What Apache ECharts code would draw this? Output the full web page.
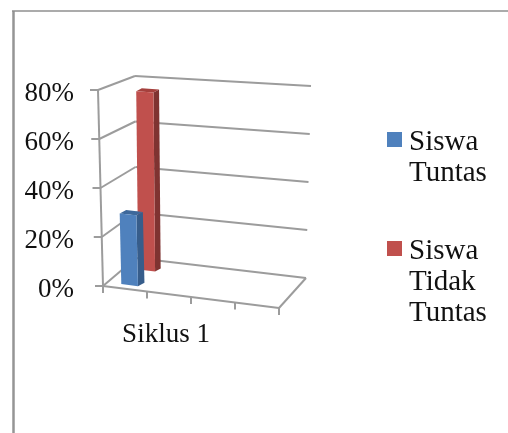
<!DOCTYPE html>
<html>
<head>
<meta charset="utf-8">
<style>
  html, body { margin: 0; background: #fff; }
  #chart { width: 508px; height: 433px; }
</style>
<script src="https://cdn.jsdelivr.net/npm/echarts@6/dist/echarts.min.js"></script>
</head>
<body>
<div id="chart"></div>
<script>
// data
const categories = ['Siklus 1']
const seriesNames = ['Siswa Tuntas', 'Siswa Tidak Tuntas']
const tuntasValues = [29]
const tidakTuntasValues = [76]
const yTicks = [0, 20, 40, 60, 80]

const fontName = '"Liberation Serif", serif'
const lineColor = '#9c9c9c'

// corners of the 3D box on screen: [bottom, top] for each of FL, FR, BL, BR
const box = {
  FL: [[103, 286], [98, 90]],
  FR: [[279, 308], [274, 105]],
  BL: [[136, 258], [135, 76]],
  BR: [[306, 278], [311, 86]],
}
const floorSlots = 4

const mix = (a, b, k) => [a[0] + (b[0] - a[0]) * k, a[1] + (b[1] - a[1]) * k]

// u = along category axis, d = depth, t = height share of the value axis
const project = (u, d, t) => {
  const bottom = mix(mix(box.FL[0], box.FR[0], u), mix(box.BL[0], box.BR[0], u), d)
  const top = mix(mix(box.FL[1], box.FR[1], u), mix(box.BL[1], box.BR[1], u), d)
  return mix(bottom, top, t)
}

const heightShare = (api, value) => {
  const y0 = api.coord([0, yTicks[0]])[1]
  const y1 = api.coord([0, yTicks[yTicks.length - 1]])[1]
  return (y0 - api.coord([0, value])[1]) / (y0 - y1)
}

const line = (a, b) => ({
  type: 'line',
  shape: { x1: a[0], y1: a[1], x2: b[0], y2: b[1] },
  style: { stroke: lineColor, lineWidth: 2, fill: null },
})

const poly = (points, fill) => ({
  type: 'polygon',
  shape: { points },
  style: { fill },
})

const renderFrame = (params, api) => {
  const children = []
  yTicks.forEach((tick) => {
    const t = heightShare(api, tick)
    const front = project(0, 0, t)
    const back = project(0, 1, t)
    children.push(line([front[0] - 8, front[1]], front))
    children.push(line(front, back))
    children.push(line(back, project(1, 1, t)))
  })
  children.push(line(project(0, 0, 0), project(0, 0, 1)))
  children.push(line(project(0, 0, 0), project(1, 0, 0)))
  children.push(line(project(1, 0, 0), project(1, 1, 0)))
  for (let i = 0; i <= floorSlots; i++) {
    const p = project(i / floorSlots, 0, 0)
    children.push(line(p, [p[0], p[1] + 7]))
  }
  return { type: 'group', children }
}

const makeBar = (u0, u1, d, off, colors) => (params, api) => {
  const t = heightShare(api, api.value(1))
  const lb = project(u0, d, 0)
  const rb = project(u1, d, 0)
  const lt = project(u0, d, t)
  const rt = project(u1, d, t)
  const shift = (p) => [p[0] + off[0], p[1] + off[1]]
  return {
    type: 'group',
    children: [
      poly([rt, shift(rt), shift(rb), rb], colors.side),
      poly([lt, rt, shift(rt), shift(lt)], colors.top),
      poly([lb, lt, rt, rb], colors.front),
    ],
  }
}

const chart = echarts.init(document.getElementById('chart'), null, { renderer: 'canvas' })

const toRows = (values) => values.map((v, i) => [i, v])

chart.setOption({
  animation: false,
  backgroundColor: '#fff',
  // the grid only carries the scales and labels, the box is placed by project()
  grid: { left: 98, top: 94, width: 136, height: 196 },
  xAxis: {
    type: 'category',
    data: categories,
    axisLine: { show: false },
    axisTick: { show: false },
    axisLabel: { margin: 31, fontFamily: fontName, fontSize: 27, color: '#111' },
  },
  yAxis: {
    type: 'value',
    min: yTicks[0],
    max: yTicks[yTicks.length - 1],
    interval: 20,
    axisLine: { show: false },
    axisTick: { show: false },
    splitLine: { show: false },
    axisLabel: { margin: 24, formatter: '{value}%', fontFamily: fontName, fontSize: 27, color: '#111' },
  },
  legend: {
    orient: 'vertical',
    left: 387,
    top: 96,
    padding: 0,
    itemWidth: 15,
    itemHeight: 21,
    itemGap: -15,
    // square sits at the top of a taller icon box, so the text hangs a little lower
    icon: 'path://M0 0H15V15H0ZM0 21H0.01V21Z',
    // blank lines in front keep the square level with the first line of text
    formatter: (name) => {
      const words = name.split(' ')
      return '\n'.repeat(words.length - 1) + words.join('\n')
    },
    textStyle: { fontFamily: fontName, fontSize: 29, lineHeight: 31, color: '#111', padding: [0, 0, 0, 2] },
    data: seriesNames,
  },
  graphic: [
    { type: 'line', silent: true, shape: { x1: 13.5, y1: 11, x2: 13.5, y2: 433 }, style: { stroke: '#959595', lineWidth: 2.5 } },
    { type: 'line', silent: true, shape: { x1: 12, y1: 11, x2: 508, y2: 11 }, style: { stroke: '#8f8f8f', lineWidth: 1.5 } },
  ],
  series: [
    {
      name: 'frame',
      type: 'custom',
      silent: true,
      clip: false,
      z: 1,
      renderItem: renderFrame,
      data: [[0, 0]],
    },
    {
      name: seriesNames[1],
      type: 'custom',
      silent: true,
      clip: false,
      z: 2,
      itemStyle: { color: '#c0504d' },
      renderItem: makeBar(0.08, 0.178, 0.65, [5.6, -3], { front: '#c0504d', side: '#7f3331', top: '#a5403d' }),
      encode: { x: 0, y: 1 },
      data: toRows(tidakTuntasValues),
    },
    {
      name: seriesNames[0],
      type: 'custom',
      silent: true,
      clip: false,
      z: 3,
      itemStyle: { color: '#4f81bd' },
      renderItem: makeBar(0.08, 0.175, 0.13, [6.5, -3.4], { front: '#4f81bd', side: '#375d8b', top: '#3d689b' }),
      encode: { x: 0, y: 1 },
      data: toRows(tuntasValues),
    },
  ],
})
</script>
</body>
</html>
